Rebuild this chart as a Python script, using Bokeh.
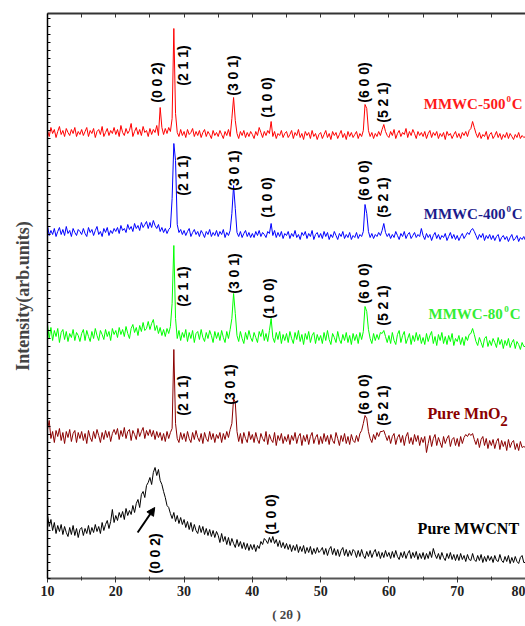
import numpy as np
from bokeh.plotting import figure
from bokeh.models import Range1d, LinearAxis, SingleIntervalTicker, FixedTicker, Label, Arrow, NormalHead
from bokeh.embed import file_html
from bokeh.resources import INLINE

# 2-theta sampling grid (degrees), 0.25 deg steps from 10 to 80
two_theta = np.round(10 + 0.25 * np.arange(281), 2)

# intensities (arb. units), one row = 5 degrees
mmwc_500 = [
28,22,31,25,29,21,27,32,24,28,22,30,26,23,29,25,31,22,27,24,
29,23,27,31,22,28,25,30,21,27,29,24,32,22,26,30,23,28,25,31,
24,29,22,33,26,23,30,25,28,35,22,27,31,24,29,23,32,26,28,22,
30,24,29,26,33,23,51,31,24,30,25,31,27,40,130,45,26,22,29,23,
27,21,29,24,26,30,22,27,23,28,21,26,29,22,27,24,20,28,23,26,
22,28,24,20,27,23,29,22,40,61,38,25,20,27,23,28,21,26,22,27,
24,20,27,23,31,26,21,27,23,28,25,37,22,27,20,25,23,28,21,25,
27,21,24,28,20,26,23,29,21,25,19,27,23,26,20,28,22,25,19,24,
26,20,24,28,21,25,19,27,23,26,20,24,28,21,25,19,27,22,26,21,
24,27,20,25,22,28,54,50,28,22,26,20,25,22,27,23,29,34,27,23,
21,27,23,29,20,25,28,22,26,24,30,21,27,23,29,25,20,27,23,26,
22,27,20,25,28,21,26,23,27,20,25,22,26,19,27,23,25,20,24,27,
21,25,20,26,23,27,22,28,30,37,31,25,21,26,20,24,22,27,19,24,
26,20,23,27,21,25,19,24,21,26,20,25,22,19,24,21,26,20,23,21,
22]

mmwc_400 = [
33,23,28,24,30,22,27,31,24,29,23,32,25,28,22,30,26,23,29,27,
24,30,25,22,31,26,29,23,28,32,24,27,22,30,26,31,23,28,25,30,
27,31,25,33,28,30,26,34,29,32,27,35,30,33,28,36,31,34,37,30,
36,31,38,33,30,34,27,31,26,30,25,29,31,60,115,98,34,26,29,24,
28,23,27,30,22,26,29,24,27,22,28,25,21,27,24,29,22,26,23,28,
22,27,24,29,21,26,23,28,45,73,50,26,22,27,21,25,28,22,26,21,
25,21,27,23,28,22,26,24,21,27,25,35,23,28,21,26,22,27,20,25,
23,27,20,25,22,28,21,24,19,26,23,27,20,25,22,28,19,24,26,21,
25,20,27,22,26,19,24,21,27,23,19,25,22,27,20,24,21,26,19,23,
21,26,20,24,22,27,54,45,27,21,25,20,24,22,26,23,28,35,26,22,
25,20,24,21,27,23,19,25,22,27,20,24,26,20,23,26,21,24,22,30,
23,19,25,21,24,18,23,26,20,24,19,23,21,25,18,22,26,20,24,19,
23,18,22,25,20,23,26,24,28,30,27,23,19,24,21,25,18,23,20,24,
19,23,18,22,24,17,21,23,19,22,17,21,24,18,20,23,17,21,19,22,
18]

mmwc_80 = [
34,20,31,18,28,22,30,16,26,29,19,27,17,25,21,29,18,26,23,17,
25,29,18,28,22,17,27,20,30,23,18,28,24,19,29,22,27,18,30,24,
28,21,31,24,29,22,32,25,20,30,34,26,31,23,33,27,36,28,30,37,
29,35,39,28,33,25,31,23,29,22,30,25,32,55,113,40,20,28,18,26,
21,29,17,26,20,28,16,25,27,19,29,21,17,26,20,28,23,16,27,20,
26,18,28,21,16,27,20,29,40,65,45,23,17,27,20,15,26,19,28,21,
17,26,21,16,27,22,29,18,25,17,28,40,21,16,26,19,27,15,24,18,
25,16,27,20,15,26,19,28,17,24,14,25,19,27,16,23,26,15,24,18,
23,15,26,18,28,19,14,25,21,16,27,19,15,24,18,26,16,23,14,25,
18,24,15,26,19,27,52,47,29,20,15,25,18,24,19,26,25,28,22,16,
23,15,26,18,14,24,28,16,23,27,15,20,25,14,23,17,26,18,24,15,
21,14,25,17,23,27,15,22,13,24,18,26,15,22,14,23,17,25,13,20,
17,23,14,21,13,22,18,24,25,30,24,17,13,21,16,11,20,22,12,18,
13,20,16,11,21,14,19,10,18,13,20,11,16,19,10,17,14,9,16,12,
12]

pure_mno2 = [
29,38,20,27,16,28,22,30,18,26,15,27,21,29,17,25,28,16,26,20,
27,18,25,15,28,21,17,27,20,29,23,16,26,19,28,21,27,17,25,29,
24,30,19,28,22,31,20,27,29,18,28,24,19,30,22,27,31,20,28,23,
29,22,28,19,27,21,26,18,25,17,27,20,26,30,109,35,20,16,26,19,
25,17,27,20,16,26,19,28,21,17,25,15,26,20,17,27,19,25,16,24,
20,26,16,25,19,27,21,29,35,60,56,27,17,25,15,26,20,16,27,19,
24,16,26,19,15,25,20,17,27,14,24,19,16,26,13,23,18,25,15,22,
17,24,14,23,18,26,15,22,25,13,23,17,24,14,22,26,15,21,24,14,
22,15,25,17,23,14,24,18,15,26,20,13,23,17,25,15,22,14,24,18,
16,23,17,25,28,35,43,40,27,20,16,24,19,26,22,27,27,28,23,18,
23,15,22,25,14,21,24,16,23,13,22,26,15,21,14,24,17,23,13,21,
16,22,6,15,23,12,20,24,13,21,16,11,22,15,20,23,12,19,21,13,
20,12,22,15,21,24,22,25,23,25,19,14,20,11,19,22,13,20,10,18,
13,19,10,17,20,9,18,12,17,8,19,11,16,18,9,15,8,17,11,12,
11]

pure_mwcnt = [
64,52,59,48,56,45,53,47,54,44,52,46,42,51,44,53,43,50,41,49,
51,43,50,45,53,44,51,46,54,47,52,45,56,48,54,58,50,57,69,56,
63,58,66,61,67,59,70,63,68,64,73,66,75,79,71,84,87,81,93,96,
101,94,106,111,103,109,98,94,87,81,73,71,65,60,66,57,63,55,61,54,
59,51,57,49,56,47,54,48,45,53,46,52,44,50,43,49,42,48,41,47,
43,36,45,37,42,34,41,33,40,35,31,39,32,37,30,36,29,35,28,34,
29,34,27,33,30,37,34,40,38,35,41,36,42,35,39,32,38,31,36,30,
35,29,34,27,33,28,34,26,32,27,33,25,31,26,32,24,30,25,31,26,
28,31,24,30,23,29,32,24,30,23,29,22,28,31,23,29,22,28,23,29,
27,21,28,22,29,23,20,27,22,28,21,26,29,22,27,20,26,21,28,22,
26,20,27,21,28,22,19,26,21,27,20,25,28,20,26,21,27,19,25,20,
26,19,25,20,27,21,30,24,20,25,19,26,21,18,25,20,26,19,24,18,
24,18,25,19,23,17,24,19,18,25,19,17,23,18,24,16,22,17,23,18,
22,16,23,18,17,24,18,16,22,17,23,15,21,16,22,17,15,21,23,16,
16]

series_names = ["MMWC-500", "MMWC-400", "MMWC-80", "Pure MnO2", "Pure MWCNT"]
series_values = [mmwc_500, mmwc_400, mmwc_80, pure_mno2, pure_mwcnt]
stack_offsets = [420, 320, 220, 120, 0]
line_colors = ["#ff0000", "#0000ff", "#00ff00", "#8b0000", "#000000"]

for s in series_values:
    assert len(s) == len(two_theta)

# hkl annotations: (label, 2theta, height)
hkl_labels = [
    ("(0 0 2)", 26.1, 496), ("(2 1 1)", 29.8, 513), ("(3 0 1)", 37.1, 503),
    ("(1 0 0)", 42.2, 481), ("(6 0 0)", 56.3, 496), ("(5 2 1)", 59.2, 476),
    ("(2 1 1)", 29.9, 403), ("(3 0 1)", 37.3, 408), ("(1 0 0)", 42.2, 381),
    ("(6 0 0)", 56.3, 398), ("(5 2 1)", 59.2, 381),
    ("(2 1 1)", 29.8, 292), ("(3 0 1)", 37.3, 305), ("(1 0 0)", 42.4, 280),
    ("(6 0 0)", 56.3, 295), ("(5 2 1)", 59.2, 273),
    ("(2 1 1)", 29.9, 183), ("(3 0 1)", 36.7, 194), ("(6 0 0)", 56.3, 184),
    ("(5 2 1)", 59.2, 173),
    ("(0 0 2)", 25.8, 25), ("(1 0 0)", 42.7, 64),
]

SERIF = "Liberation Serif"
SANS = "Liberation Sans"

p = figure(width=525, height=626, output_backend="svg", toolbar_location=None,
           x_range=Range1d(10, 80), y_range=Range1d(0, 565),
           min_border_left=47, min_border_right=0, min_border_top=13, min_border_bottom=48,
           background_fill_color="white", border_fill_color="white")
p.outline_line_color = None
p.xgrid.visible = False
p.ygrid.visible = False

for vals, off, col in zip(series_values, stack_offsets, line_colors):
    p.line(two_theta, np.array(vals) + off, line_color=col, line_width=1)

# bottom axis
xa = p.xaxis[0]
xa.ticker = SingleIntervalTicker(interval=10, num_minor_ticks=2)
xa.axis_line_color = "#555555"
xa.axis_line_width = 2
xa.major_tick_out = 4
xa.major_tick_in = 0
xa.minor_tick_out = 2
xa.minor_tick_in = 2
xa.major_tick_line_color = "#333333"
xa.minor_tick_line_color = "#333333"
xa.major_label_text_font = SERIF
xa.major_label_text_font_style = "bold"
xa.major_label_text_font_size = "14px"
xa.major_label_text_color = "#222222"
xa.major_label_standoff = 3
xa.axis_label = "( 2θ )"
xa.axis_label_text_font = SERIF
xa.axis_label_text_font_style = "bold"
xa.axis_label_text_font_size = "13px"
xa.axis_label_standoff = 8

# left axis: only small inward ticks, no tick labels
ya = p.yaxis[0]
ya.ticker = FixedTicker(ticks=[], minor_ticks=list(range(0, 566, 8)))
ya.axis_line_color = "black"
ya.axis_line_width = 1.5
ya.minor_tick_in = 3
ya.minor_tick_out = 0
ya.minor_tick_line_color = "black"
ya.axis_label = "Intensity(arb.units)"
ya.axis_label_text_font = SERIF
ya.axis_label_text_font_style = "bold"
ya.axis_label_text_font_size = "18px"
ya.axis_label_standoff = 15

# top axis: inward ticks every 5 degrees, no labels
top = LinearAxis(ticker=FixedTicker(ticks=[], minor_ticks=list(range(10, 81, 5))),
                 minor_tick_in=4, minor_tick_out=0, minor_tick_line_color="#333333",
                 axis_line_color="#333333", axis_line_width=2)
p.add_layout(top, "above")

for txt, xx, yy in hkl_labels:
    p.add_layout(Label(x=xx, y=yy, text=txt, angle=np.pi / 2, text_align="center",
                       text_baseline="middle", text_font=SANS, text_font_style="bold",
                       text_font_size="14px", text_color="black"))

# MMWC labels with superscript degree zero
label_specs = [
    ("MMWC-500", 475, "#ff1a1a", 65.1, 77.2, 78.0),
    ("MMWC-400", 365, "#1c1c8c", 65.1, 77.2, 78.0),
    ("MMWC-80", 265, "#33ee33", 65.8, 76.9, 77.7),
]
for main, yy, col, x0, xs, xc in label_specs:
    p.add_layout(Label(x=x0, y=yy, text=main, text_align="left", text_baseline="middle",
                       text_font=SERIF, text_font_style="bold", text_font_size="15px",
                       text_color=col))
    p.add_layout(Label(x=xs, y=yy + 5, text="0", text_align="left", text_baseline="middle",
                       text_font=SERIF, text_font_style="bold", text_font_size="9px",
                       text_color=col))
    p.add_layout(Label(x=xc, y=yy, text="C", text_align="left", text_baseline="middle",
                       text_font=SERIF, text_font_style="bold", text_font_size="15px",
                       text_color=col))

p.add_layout(Label(x=65.65, y=165, text="Pure MnO", text_align="left", text_baseline="middle",
                   text_font=SERIF, text_font_style="bold", text_font_size="16px",
                   text_color="#8b0000"))
p.add_layout(Label(x=76.3, y=158, text="2", text_align="left", text_baseline="middle",
                   text_font=SERIF, text_font_style="bold", text_font_size="15px",
                   text_color="#8b0000"))
p.add_layout(Label(x=64.2, y=50, text="Pure MWCNT", text_align="left", text_baseline="middle",
                   text_font=SERIF, text_font_style="bold", text_font_size="16px",
                   text_color="black"))

p.add_layout(Arrow(x_start=23.2, y_start=46, x_end=25.7, y_end=71, line_width=2,
                   line_color="black",
                   end=NormalHead(size=8, fill_color="black", line_color="black")))

open("out.html", "w").write(file_html(p, INLINE))
